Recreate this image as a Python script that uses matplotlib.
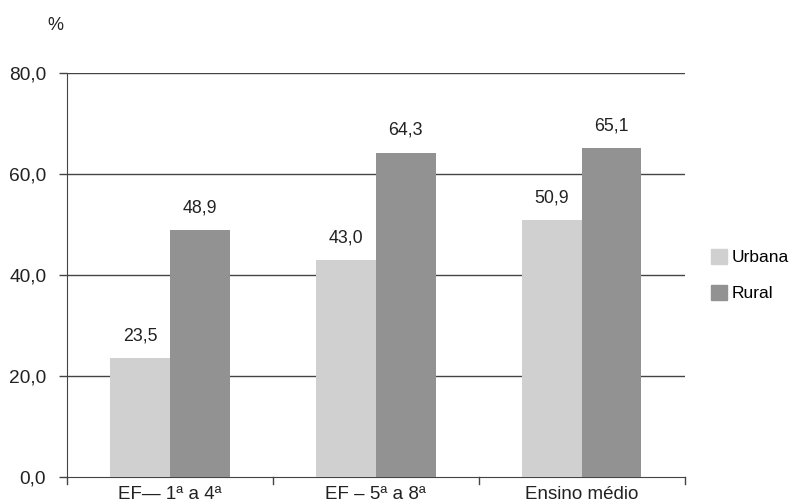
import matplotlib
matplotlib.use("Agg")
import matplotlib.pyplot as plt
import numpy as np
from matplotlib.patches import Patch

categories = ["EF\u2014 1\u00aa a 4\u00aa", "EF \u2013 5\u00aa a 8\u00aa", "Ensino m\u00e9dio"]
urbana = [23.5, 43.0, 50.9]
rural = [48.9, 64.3, 65.1]
series_names = ["Urbana", "Rural"]
yticks = [0, 20, 40, 60, 80]

plt.rcParams['font.family'] = ['Liberation Sans', 'DejaVu Sans']

fig = plt.figure(figsize=(7.98, 5.04), dpi=100)
ax = fig.add_axes([0.084, 0.0536, 0.774, 0.801])

x = np.arange(len(categories))
w = 0.29
c_u = "#d0d0d0"
c_r = "#929292"
txt = "#222222"
line_c = "#444444"
ax.bar(x - w/2, urbana, w, color=c_u, zorder=3)
ax.bar(x + w/2, rural, w, color=c_r, zorder=3)

def fmt(v):
    return f"{v:.1f}".replace(".", ",")

for xs, vals in ((x - w/2, urbana), (x + w/2, rural)):
    for xi, v in zip(xs, vals):
        ax.annotate(fmt(v), (xi, v), xytext=(0, 16), textcoords="offset points",
                    ha="center", va="center", fontsize=12.8, color=txt)

ax.set_xlim(-0.5, 2.5)
ax.set_ylim(0, 80)
ax.set_yticks(yticks)
ax.set_yticklabels([fmt(v) for v in yticks], fontsize=13.8, color=txt)
for v in yticks[1:]:
    ax.axhline(v, color=line_c, lw=1.0, zorder=1)

ax.set_xticks(x)
ax.set_xticklabels(categories, fontsize=13.5, color=txt)
ax.tick_params(axis="x", length=0, pad=6.5)
ax.tick_params(axis="y", length=6, width=1, color=line_c, direction="out", pad=9)
for xb in [-0.5, 0.5, 1.5, 2.5]:
    ax.plot([xb, xb], [0, -1.4], color=line_c, lw=1, clip_on=False)

for s in ["top", "right"]:
    ax.spines[s].set_visible(False)
ax.spines["left"].set_color(line_c)
ax.spines["bottom"].set_color(line_c)

fig.text(55/798, 1 - 25/504, "%", fontsize=13, ha="center", va="center", color=txt)

handles = [Patch(color=c_u), Patch(color=c_r)]
fig.legend(handles, series_names, loc="center left",
           bbox_to_anchor=(711/798, 1 - 275/504), bbox_transform=fig.transFigure,
           frameon=False, fontsize=12.5, handlelength=0.95, handleheight=0.95,
           handletextpad=0.25, labelspacing=1.1, borderpad=0, borderaxespad=0)

fig.savefig("out.png", dpi=100)
